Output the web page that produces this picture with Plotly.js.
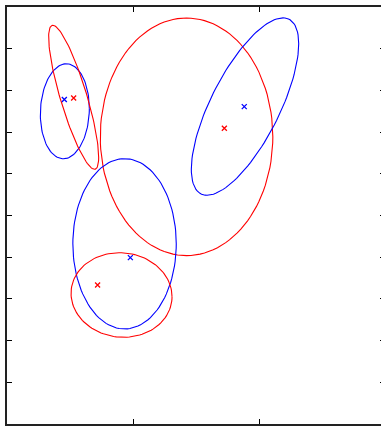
<!DOCTYPE html>
<html>
<head>
<meta charset="utf-8">
<script src="https://cdn.plot.ly/plotly-3.0.1.min.js"></script>
<style>
html, body { margin: 0; padding: 0; overflow: hidden; background: #fff; }
#chart { width: 386px; height: 426px; }
</style>
</head>
<body>
<div id="chart"></div>
<script>
// Component colours (series)
const componentColors = ['blue', 'red', 'red', 'blue', 'blue', 'red'];
// Ellipse centres (data units)
const ellipseCx = [0.459, 0.529, 1.425, 1.889, 0.933, 0.909];
const ellipseCy = [7.499, 7.835, 6.887, 7.612, 4.321, 3.094];
// Ellipse covariance entries (data units)
const ellipseSxx = [0.0378, 0.0394, 0.469, 0.1816, 0.1684, 0.1606];
const ellipseSyy = [1.2975, 2.981, 8.116, 4.5245, 4.1745, 1.029];
const ellipseSxy = [0.0135, -0.2855, 0.0, 0.6414, 0.0, -0.0162];
// Mean markers ("x")
const meanX = [0.455, 0.529, 1.725, 1.883, 0.979, 0.719];
const meanY = [7.782, 7.818, 7.091, 7.611, 3.990, 3.333];
// Axis ticks
const xTicks = [0, 1, 2, 3];
const yTicks = [0, 1, 2, 3, 4, 5, 6, 7, 8, 9, 10];

const colorMap = { blue: '#0000ff', red: '#ff0000' };
const traces = [];
const N = 120;
for (let i = 0; i < ellipseCx.length; i++) {
  const l11 = Math.sqrt(ellipseSxx[i]);
  const l21 = ellipseSxy[i] / l11;
  const l22 = Math.sqrt(ellipseSyy[i] - l21 * l21);
  const xs = [], ys = [];
  for (let k = 0; k <= N; k++) {
    const t = 2 * Math.PI * k / N;
    const u = Math.cos(t), v = Math.sin(t);
    xs.push(ellipseCx[i] + l11 * u);
    ys.push(ellipseCy[i] + l21 * u + l22 * v);
  }
  traces.push({
    x: xs, y: ys, type: 'scatter', mode: 'lines',
    line: { color: colorMap[componentColors[i]], width: 1.1 },
    hoverinfo: 'skip', showlegend: false
  });
}
for (let i = 0; i < meanX.length; i++) {
  traces.push({
    x: [meanX[i]], y: [meanY[i]], type: 'scatter', mode: 'markers',
    marker: { symbol: 'x-thin-open', size: 5,
      line: { color: colorMap[componentColors[i]], width: 1.3 },
      color: colorMap[componentColors[i]] },
    hoverinfo: 'skip', showlegend: false
  });
}

const axisCommon = {
  showgrid: false, zeroline: false, showticklabels: false,
  showline: true, linecolor: '#222', linewidth: 2, mirror: 'ticks',
  ticks: 'inside', ticklen: 5, tickwidth: 1, tickcolor: '#000'
};
const layout = {
  width: 386, height: 426,
  margin: { l: 7, r: 1, t: 7, b: 2, pad: 0 },
  paper_bgcolor: '#fff', plot_bgcolor: '#fff',
  showlegend: false,
  xaxis: Object.assign({}, axisCommon, {
    range: [xTicks[0], xTicks[xTicks.length - 1]],
    tickvals: xTicks
  }),
  yaxis: Object.assign({}, axisCommon, {
    range: [yTicks[0], yTicks[yTicks.length - 1]],
    tickvals: yTicks
  })
};
Plotly.newPlot('chart', traces, layout, { staticPlot: true, displayModeBar: false });
</script>
</body>
</html>
